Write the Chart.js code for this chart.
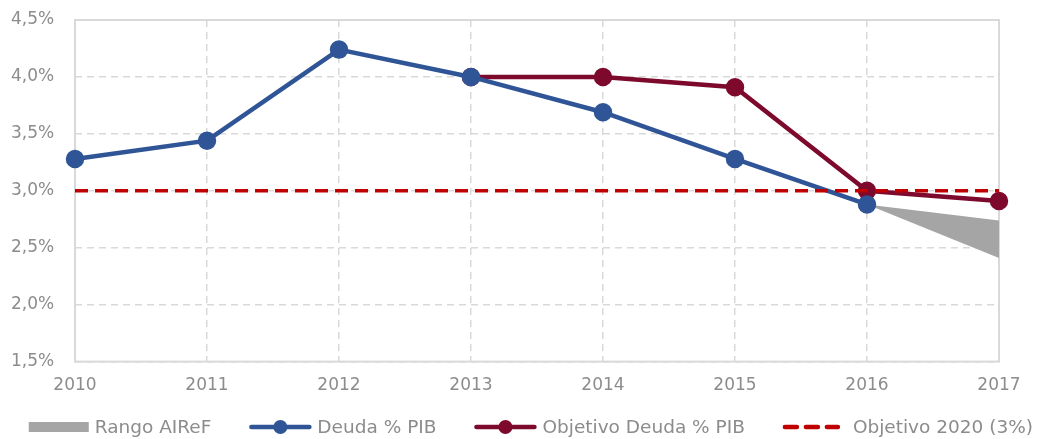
<!DOCTYPE html>
<html><head><meta charset="utf-8">
<script src="https://cdn.jsdelivr.net/npm/chart.js@4.4.1/dist/chart.umd.min.js"></script>
<style>html,body{margin:0;padding:0;background:#fff}#wrap{width:1037px;height:439px}</style>
</head><body><div id="wrap"><canvas id="c" width="1037" height="439"></canvas></div>
<script>
const years = ['2010','2011','2012','2013','2014','2015','2016','2017'];
const deuda = [3.28, 3.44, 4.24, 4.00, 3.69, 3.28, 2.88, null];
const objetivoDeuda = [null, null, null, 4.00, 4.00, 3.91, 3.00, 2.91];
const objetivo2020 = [3.0, 3.0, 3.0, 3.0, 3.0, 3.0, 3.0, 3.0];
const rangoAltoAIReF = [null, null, null, null, null, null, 2.88, 2.74];
const rangoBajoAIReF = [null, null, null, null, null, null, 2.88, 2.41];
const yTicks = [1.5, 2.0, 2.5, 3.0, 3.5, 4.0, 4.5];
const legendNames = ['Rango AIReF', 'Deuda % PIB', 'Objetivo Deuda % PIB', 'Objetivo 2020 (3%)'];

const BLUE = '#2f5597', MAROON = '#7d0a2d', RED = '#c00000', GRAY = '#a5a5a5';
const FONT = '"DejaVu Sans", sans-serif';
const TXT = '#8c8c8c';
const FS = 17;
const LFS = 18.5;

const customLegend = {
  id: 'customLegend',
  afterDraw(chart) {
    const ctx = chart.ctx;
    const items = [
      { kind: 'rect', color: GRAY, w: 60, gap: 6 },
      { kind: 'line', color: BLUE, w: 62, gap: 6 },
      { kind: 'line', color: MAROON, w: 62, gap: 6 },
      { kind: 'dash', color: RED, w: 55, gap: 15 }
    ];
    const between = 38;
    ctx.save();
    ctx.font = LFS + 'px ' + FONT;
    const tw = legendNames.map(n => ctx.measureText(n).width);
    let total = 0;
    items.forEach((it, i) => { total += it.w + it.gap + tw[i] + (i < items.length - 1 ? between : 0); });
    let x = 1033 - total;
    const y = 427;
    items.forEach((it, i) => {
      if (it.kind === 'rect') {
        ctx.fillStyle = it.color; ctx.fillRect(x, y - 5, it.w, 10);
      } else if (it.kind === 'line') {
        ctx.strokeStyle = it.color; ctx.lineWidth = 4.5; ctx.lineCap = 'round';
        ctx.beginPath(); ctx.moveTo(x + 2, y); ctx.lineTo(x + it.w - 2, y); ctx.stroke();
        ctx.fillStyle = it.color; ctx.beginPath(); ctx.arc(x + it.w / 2, y, 7, 0, Math.PI * 2); ctx.fill();
      } else {
        ctx.strokeStyle = it.color; ctx.lineWidth = 4.5; ctx.lineCap = 'round';
        ctx.setLineDash([12, 9]);
        ctx.beginPath(); ctx.moveTo(x + 2, y); ctx.lineTo(x + it.w, y); ctx.stroke();
        ctx.setLineDash([]);
      }
      x += it.w + it.gap;
      ctx.fillStyle = TXT; ctx.textBaseline = 'middle'; ctx.textAlign = 'left';
      ctx.fillText(legendNames[i], x, y + 1);
      x += tw[i] + between;
    });
    ctx.restore();
  }
};

const borderBox = {
  id: 'borderBox',
  beforeDatasetsDraw(chart) {
    const a = chart.chartArea, ctx = chart.ctx;
    ctx.save(); ctx.strokeStyle = '#d9d9d9'; ctx.lineWidth = 2;
    ctx.strokeRect(a.left, a.top, a.right - a.left, a.bottom - a.top);
    ctx.restore();
  }
};

new Chart(document.getElementById('c'), {
  type: 'line',
  data: {
    labels: years,
    datasets: [
      { label: 'rangoAlto', data: rangoAltoAIReF, borderWidth: 0, pointRadius: 0, fill: false, backgroundColor: GRAY, borderColor: GRAY, order: 5 },
      { label: 'Rango AIReF', data: rangoBajoAIReF, borderWidth: 0, pointRadius: 0, fill: '-1', backgroundColor: GRAY, borderColor: GRAY, order: 5 },
      { label: 'Objetivo 2020 (3%)', data: objetivo2020, borderColor: RED, borderWidth: 3.5, borderDash: [13, 7], pointRadius: 0, fill: false, order: 1 },
      { label: 'Objetivo Deuda % PIB', data: objetivoDeuda, borderColor: MAROON, backgroundColor: MAROON, borderWidth: 4.5, pointRadius: 7, pointHoverRadius: 7, fill: false, order: 3 },
      { label: 'Deuda % PIB', data: deuda, borderColor: BLUE, backgroundColor: BLUE, borderWidth: 4.5, pointRadius: 7, pointHoverRadius: 7, fill: false, order: 2 }
    ]
  },
  options: {
    responsive: false,
    animation: false,
    devicePixelRatio: 1,
    layout: { padding: { top: 20, right: 38, left: 11, bottom: 29 } },
    plugins: {
      tooltip: { enabled: false },
      legend: { display: false }
    },
    scales: {
      x: {
        offset: false,
        grid: { color: '#d9d9d9', lineWidth: 1.5, drawTicks: false },
        border: { display: false, dash: [7, 5] },
        ticks: { color: TXT, font: { family: FONT, size: FS }, padding: 14, maxRotation: 0 }
      },
      y: {
        min: 1.5, max: 4.5,
        afterBuildTicks(scale) { scale.ticks = yTicks.map(v => ({ value: v })); },
        afterFit(scale) { scale.width = 64; scale.paddingTop = 0; scale.paddingBottom = 0; },
        grid: { color: '#d9d9d9', lineWidth: 1.5, drawTicks: false },
        border: { display: false, dash: [7, 5] },
        ticks: { color: TXT, font: { family: FONT, size: FS }, padding: 22, crossAlign: 'far', callback: v => v.toFixed(1).replace('.', ',') + '%' }
      }
    }
  },
  plugins: [borderBox, customLegend]
});
</script></body></html>
